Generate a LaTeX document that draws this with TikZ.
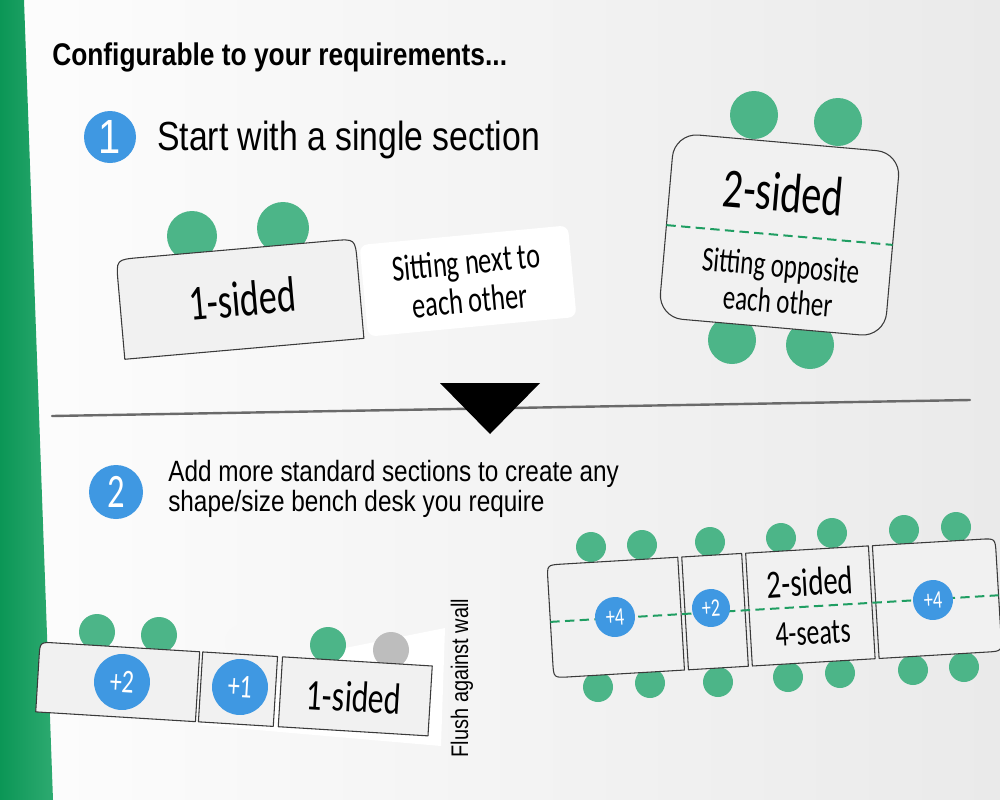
\documentclass[tikz,border=0pt]{standalone}
\usepackage{fontspec}
\setmainfont{Liberation Sans}
\newfontfamily\titlesans[FakeStretch=0.84]{Liberation Sans}
\newfontfamily\condsans[FakeStretch=0.83]{Liberation Sans}
\newfontfamily\hand[FakeStretch=0.72]{Carlito}
\definecolor{seat}{HTML}{4CB588}
\definecolor{stepblue}{HTML}{3F98E2}
\definecolor{deskfill}{HTML}{F1F1F1}
\definecolor{deskline}{HTML}{3A3A3A}
\definecolor{dgreen}{HTML}{1F9E62}
\definecolor{stripeA}{HTML}{0B9656}
\definecolor{stripeB}{HTML}{2DAA70}
\definecolor{bgL}{HTML}{FDFDFD}
\definecolor{bgR}{HTML}{EAEAEA}
\definecolor{rule}{HTML}{6A6A6A}
\definecolor{greyseat}{HTML}{BDBDBD}
\definecolor{paleseat}{HTML}{F8F8F8}
\tikzset{
  desk/.style={fill=deskfill, draw=deskline, line width=0.8pt, line join=round},
  badge/.style={circle, fill=stepblue, inner sep=0pt, text=white},
  midline/.style={draw=dgreen, line width=1.5pt, dash pattern=on 7pt off 4pt},
  hw/.style={font=\hand\fontsize{#1}{#1}\selectfont},
}
\begin{document}
\begin{tikzpicture}[x=0.75pt,y=-0.75pt]
\useasboundingbox (0,0) rectangle (1000,800);
% background
\shade[left color=bgL, right color=bgR] (0,0) rectangle (1000,800);
\shade[left color=stripeA, right color=stripeB] (0,0) -- (24,0) -- (53,800) -- (0,800) -- cycle;

% titles
\node[anchor=base west, inner sep=0pt, font=\titlesans\bfseries\fontsize{23.5}{24}\selectfont] (title) at (52,65) {Configurable to your requirements...};
\node[badge, minimum size=39pt, font=\condsans\fontsize{36}{36}\selectfont] (s1) at (110,137) {1};
\node[anchor=base west, inner sep=0pt, font=\condsans\fontsize{30.5}{31}\selectfont] (t1) at (157,150) {Start with a single section};

% 1-sided single section
\fill[seat] (192,236) circle (25);
\fill[seat] (283,228) circle (26);
\begin{scope}[shift={(240,299)}, rotate=5]
  \filldraw[desk] (-120,50) -- (-120,-27) .. controls (-120,-50) .. (-97,-50) -- (97,-50) .. controls (120,-50) .. (120,-27) -- (120,50) -- cycle;
  \node[rotate=5, hw=37.5] (onesided) at (2,0) {1-sided};
\end{scope}
\node[fill=white, rounded corners=6pt, minimum width=157pt, minimum height=69pt, rotate=5.4, align=center, inner sep=0pt, font=\hand\fontsize{27.5}{29}\selectfont] (nextto) at (468,281) {Sitting next to\\each other};

% 2-sided single section
\fill[seat] (754,115) circle (24);
\fill[seat] (838,122) circle (24);
\fill[seat] (732,340) circle (24);
\fill[seat] (810,345) circle (24);
\begin{scope}[shift={(779.5,235)}, rotate=-5]
  \filldraw[desk, rounded corners=18pt] (-113.5,-92.5) rectangle (113.5,92.5);
  \draw[midline] (-113.5,0) -- (113.5,0);
  \node[rotate=-5, hw=42] (twosided) at (0,-43) {2-sided};
  \node[rotate=-5, align=center, font=\hand\fontsize{26}{27}\selectfont] (opposite) at (4,48) {Sitting opposite\\each other};
\end{scope}

% divider and arrow
\draw[rule, line width=1.8pt, line cap=round] (52,416) -- (970,400);
\fill[black] (440,383) -- (540,383) -- (490,434) -- cycle;

% step 2
\node[badge, minimum size=40.5pt, hw=36] (s2) at (116,492) {2};
\node[anchor=base west, inner sep=0pt, font=\condsans\fontsize{22}{22}\selectfont] (t2a) at (168,481) {Add more standard sections to create any};
\node[anchor=base west, inner sep=0pt, font=\condsans\fontsize{22}{22}\selectfont] (t2b) at (168,511) {shape/size bench desk you require};

% bottom-left assembly (against wall)
\fill[white] (340,649) -- (445,628) -- (441,746) -- (200,725) -- cycle;
\fill[seat] (97,632) circle (18);
\fill[seat] (159,635) circle (18);
\fill[paleseat] (242,642) circle (17);
\fill[seat] (328,645) circle (18);
\fill[greyseat] (391,650) circle (18);
\begin{scope}[shift={(40,642)}, rotate=-3.5]
  \filldraw[desk] (0,70) -- (0,15) .. controls (0,0) .. (15,0) -- (160,0) -- (160,70) -- cycle;
  \filldraw[desk] (163,0) rectangle (238,70);
  \filldraw[desk] (243,0) rectangle (393,70);
\end{scope}
\node[badge, minimum size=42pt, rotate=-3.5, hw=25] (bA) at (122,682) {+2};
\node[badge, minimum size=42pt, rotate=-3.5, hw=25] (bB) at (240,687) {+1};
\node[rotate=-3.5, hw=33] (onesidedb) at (354,697) {1-sided};
\node[rotate=90, font=\condsans\fontsize{18}{18}\selectfont] (flush) at (462,678) {Flush against wall};

% bottom-right assembly
\foreach \p in {(591,547),(642,545),(710,542),(781,538),(832,533),(904,530),(956,527),
                (598,687),(650,683),(718,682),(788,677),(840,673),(913,670),(964,667)}
  \fill[seat] \p circle (15);
\begin{scope}[shift={(547,565)}, rotate=3.4]
  \filldraw[desk] (0,15) .. controls (0,0) .. (15,0) -- (131,0) -- (131,113) -- (15,113) .. controls (0,113) .. (0,98) -- cycle;
  \filldraw[desk] (135,0) rectangle (195,113);
  \filldraw[desk] (199,0) rectangle (322,113);
  \filldraw[desk] (326,0) -- (434,0) .. controls (449,0) .. (449,15) -- (449,98) .. controls (449,113) .. (434,113) -- (326,113) -- cycle;
  \draw[midline] (0,57) -- (449,57);
\end{scope}
\node[badge, minimum size=30pt, rotate=3.4, hw=19] (bC) at (615,617) {+4};
\node[badge, minimum size=28.5pt, rotate=3.4, hw=19] (bD) at (711,608) {+2};
\node[badge, minimum size=30pt, rotate=3.4, hw=19] (bE) at (933,600) {+4};
\node[rotate=3.4, hw=30] (twosidedb) at (810,582) {2-sided};
\node[rotate=3.4, hw=27] (fourseats) at (813,633) {4-seats};
\end{tikzpicture}
\end{document}
